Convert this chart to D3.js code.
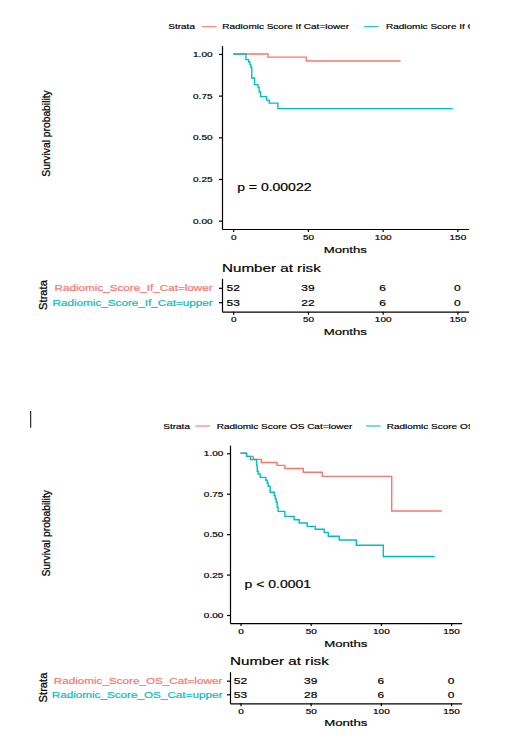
<!DOCTYPE html>
<html>
<head>
<meta charset="utf-8">
<script src="https://cdn.jsdelivr.net/npm/d3@7"></script>
<style>
    body { margin: 0; background: #fff; }
    text { font-family: "Liberation Sans", Arial, sans-serif; stroke-width: 0.25px; paint-order: stroke; }
</style>
</head>
<body>
<div class="visHolder"></div>
<script>
// tick values
const monthTicks = [0, 50, 100, 150];
const survTicks = [0, 0.25, 0.5, 0.75, 1];

// strata names
const ifStrata = ["Radiomic_Score_If_Cat=lower", "Radiomic_Score_If_Cat=upper"];
const ifLegend = ["Radiomic Score If Cat=lower", "Radiomic Score If Cat=upper"];
const osStrata = ["Radiomic_Score_OS_Cat=lower", "Radiomic_Score_OS_Cat=upper"];
const osLegend = ["Radiomic Score OS Cat=lower", "Radiomic Score OS Cat=upper"];

// KM steps (months, survival)
const ifLowerT = [0, 23.3, 49, 112];
const ifLowerS = [1, 0.981, 0.958, 0.958];
const ifUpperT = [0, 8.5, 10.3, 11.2, 11.8, 12.4, 14.3, 16.5, 17.4, 18.3, 22.3, 24.1, 29.9, 147];
const ifUpperS = [1, 0.966, 0.952, 0.936, 0.920, 0.856, 0.816, 0.801, 0.772, 0.744, 0.723, 0.705, 0.672, 0.672];

const osLowerT = [0, 4.3, 9.0, 14.9, 26.0, 31.6, 44.7, 58.3, 107.7, 143.4];
const osLowerS = [1, 0.981, 0.962, 0.943, 0.925, 0.906, 0.883, 0.857, 0.643, 0.643];
const osUpperT = [0, 4.3, 7.1, 11.4, 11.9, 12.6, 14.0, 18.0, 19.0, 19.7, 21.1, 24.0, 24.7, 25.4, 26.1, 26.8, 31.6, 38.2, 41.8, 47.5, 53.2, 59.6, 62.5, 70.3, 82.5, 101.7, 138.4];
const osUpperS = [1, 0.981, 0.962, 0.925, 0.889, 0.872, 0.851, 0.833, 0.816, 0.796, 0.759, 0.738, 0.719, 0.699, 0.666, 0.641, 0.610, 0.589, 0.569, 0.548, 0.530, 0.511, 0.487, 0.464, 0.431, 0.362, 0.362];

// number at risk at monthTicks
const ifRiskLower = [52, 39, 6, 0];
const ifRiskUpper = [53, 22, 6, 0];
const osRiskLower = [52, 39, 6, 0];
const osRiskUpper = [53, 28, 6, 0];

const ifPval = "p = 0.00022";
const osPval = "p < 0.0001";

const colors = ["#F8766D", "#00BFC4"];
const SY = 0.74; // horizontal text in the picture is squashed vertically

const svg = d3.select(".visHolder")
    .append("svg")
    .attr("width", 507)
    .attr("height", 754);

// the picture cuts the legends off at the right
svg.append("defs").append("clipPath")
    .attr("id", "legendClip")
    .append("rect")
    .attr("x", 0).attr("y", 0)
    .attr("width", 470).attr("height", 754);

function hText(g, x, y, s, size, anchor, fill) {
    return g.append("text")
        .attr("transform", "translate(" + x + "," + y + ") scale(1," + SY + ")")
        .attr("font-size", size)
        .attr("text-anchor", anchor || "start")
        .attr("dominant-baseline", "central")
        .attr("fill", fill || "#000")
        .attr("stroke", fill || "#000")
        .text(s);
}

function vText(g, x, y, s, size) {
    return g.append("text")
        .attr("transform", "translate(" + x + "," + y + ") rotate(-90)")
        .attr("font-size", size)
        .attr("text-anchor", "middle")
        .attr("dominant-baseline", "central")
        .attr("fill", "#000")
        .attr("stroke", "#000")
        .text(s);
}

function squashTicks(axisG, dx, dy, anchor, size) {
    axisG.attr("font-family", null).attr("font-size", size);
    axisG.selectAll(".tick text")
        .attr("x", null).attr("y", null).attr("dy", null)
        .attr("fill", "#000")
        .attr("stroke", "#000")
        .attr("text-anchor", anchor)
        .attr("dominant-baseline", "central")
        .attr("transform", "translate(" + dx + "," + dy + ") scale(1," + SY + ")");
    axisG.selectAll("path, line").attr("stroke", "#000").attr("stroke-width", 1.2);
}

function survPanel(o) {
    const g = svg.append("g");
    const x = d3.scaleLinear().domain([-7.5, 157.5]).range([o.left, o.right]);
    const y = d3.scaleLinear().domain([-0.05, 1.05]).range([o.bottom, o.top]);

    // legend
    const lg = g.append("g").attr("clip-path", "url(#legendClip)");
    hText(lg, o.legStrata, o.legY, "Strata", 10);
    o.legend.forEach((name, i) => {
        lg.append("line")
            .attr("x1", o.legLines[i]).attr("x2", o.legLines[i] + 14.5)
            .attr("y1", o.legY).attr("y2", o.legY)
            .attr("stroke", colors[i]).attr("stroke-width", 1.1);
        hText(lg, o.legText[i], o.legY, name, 10);
    });

    // curves
    const line = d3.line()
        .x(d => x(d[0]))
        .y(d => y(d[1]))
        .curve(d3.curveStepAfter);
    o.curves.forEach((c, i) => {
        g.append("path")
            .datum(d3.zip(c[0], c[1]))
            .attr("d", line)
            .attr("fill", "none")
            .attr("stroke", colors[i])
            .attr("stroke-width", 1.4);
    });

    // axes
    const ya = g.append("g")
        .attr("transform", "translate(" + o.left + ",0)")
        .call(d3.axisLeft(y).tickValues(survTicks).tickFormat(d3.format(".2f")).tickSize(3).tickSizeOuter(0));
    squashTicks(ya, -o.yLabGap, 0, "end", 10);
    const xa = g.append("g")
        .attr("transform", "translate(0," + o.bottom + ")")
        .call(d3.axisBottom(x).tickValues(monthTicks).tickSize(3).tickSizeOuter(0));
    squashTicks(xa, 0, 8.3, "middle", 10);

    hText(g, (o.left + o.right) / 2, o.bottom + 20, "Months", 13.2, "middle");
    vText(g, 46.5, o.yTitle, "Survival probability", 10.3);
    hText(g, x(0) + 4, y(o.pY), o.pval, 14, "start");

    // risk table
    const ry = d3.scalePoint().domain(o.strata).range([o.tTop, o.tBottom]).padding(0.66);
    hText(g, o.left, o.tTop - 10, "Number at risk", 15.2, "start");
    o.risk.forEach((row, i) => {
        g.append("g").selectAll("text")
            .data(row)
            .enter()
            .append("text")
            .attr("transform", (d, j) => "translate(" + x(monthTicks[j]) + "," + ry(o.strata[i]) + ") scale(1," + SY + ")")
            .attr("font-size", 12)
            .attr("text-anchor", "middle")
            .attr("dominant-baseline", "central")
            .attr("stroke", "#000")
            .text(d => d);
    });
    const ta = g.append("g")
        .attr("transform", "translate(" + o.left + ",0)")
        .call(d3.axisLeft(ry).tickSize(3).tickSizeOuter(0));
    squashTicks(ta, -o.tLabGap, 0, "end", 11.7);
    ta.selectAll(".tick text")
        .attr("fill", (d, i) => colors[i])
        .attr("stroke", (d, i) => colors[i]);
    const tx = g.append("g")
        .attr("transform", "translate(0," + o.tBottom + ")")
        .call(d3.axisBottom(x).tickValues(monthTicks).tickSize(3).tickSizeOuter(0));
    squashTicks(tx, 0, 8, "middle", 10);
    hText(g, (o.left + o.right) / 2, o.tBottom + 19.4, "Months", 13.2, "middle");
    vText(g, 43, (o.tTop + o.tBottom) / 2, "Strata", 11.2);
}

survPanel({
    left: 222, right: 468.6, top: 45.6, bottom: 229,
    legY: 26.7, legStrata: 168.3, legLines: [202, 364], legText: [222.3, 386],
    legend: ifLegend, strata: ifStrata,
    curves: [[ifLowerT, ifLowerS], [ifUpperT, ifUpperS]],
    yLabGap: 9.5, yTitle: 133.5, pval: ifPval, pY: 0.2,
    tTop: 278.3, tBottom: 311.7, tLabGap: 9.3,
    risk: [ifRiskLower, ifRiskUpper]
});

survPanel({
    left: 230, right: 461.6, top: 445.2, bottom: 623.1,
    legY: 426, legStrata: 163.3, legLines: [195.5, 366], legText: [216.7, 386.7],
    legend: osLegend, strata: osStrata,
    curves: [[osLowerT, osLowerS], [osUpperT, osUpperS]],
    yLabGap: 6.7, yTitle: 533.3, pval: osPval, pY: 0.19,
    tTop: 671.7, tBottom: 703.3, tLabGap: 7.7,
    risk: [osRiskLower, osRiskUpper]
});

// stray text cursor in the picture
svg.append("line")
    .attr("x1", 30.7).attr("x2", 30.7)
    .attr("y1", 411).attr("y2", 427.7)
    .attr("stroke", "#000").attr("stroke-width", 1);
</script>
</body>
</html>
